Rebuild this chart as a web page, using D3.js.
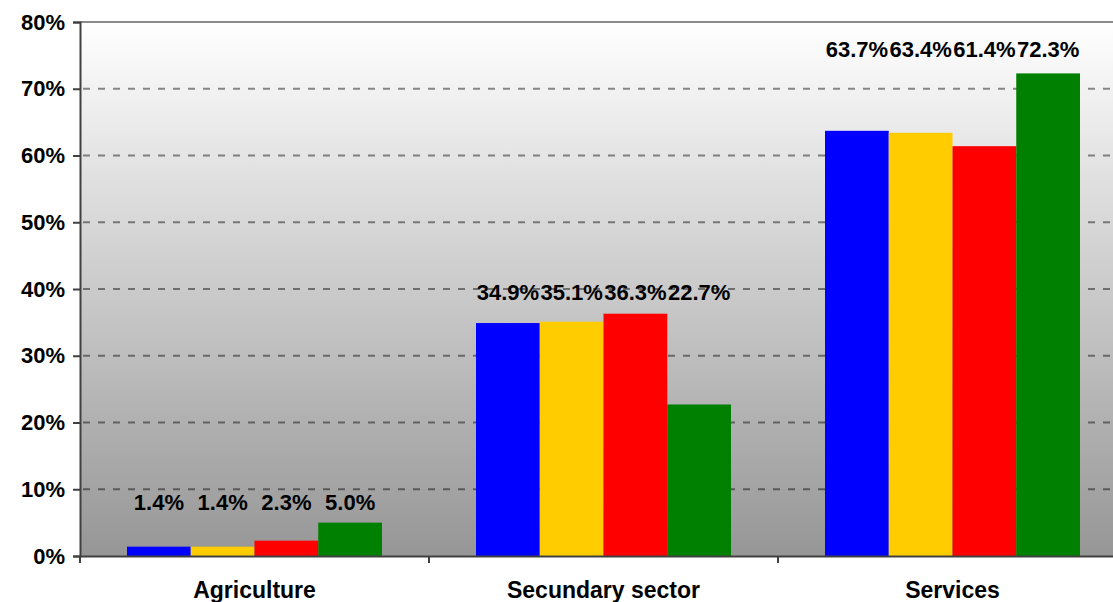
<!DOCTYPE html>
<html><head><meta charset="utf-8">
<script src="https://cdn.jsdelivr.net/npm/d3@7"></script>
<style>html,body{margin:0;padding:0;background:#fff;overflow:hidden}</style>
</head><body>
<svg id="c" width="1113" height="602"></svg>
<script>
const categories = ["Agriculture", "Secundary sector", "Services"];
const seriesNames = ["Series 1", "Series 2", "Series 3", "Series 4"];
const seriesColors = ["#0000ff", "#ffcc00", "#ff0000", "#008000"];
const series1 = [1.4, 34.9, 63.7];
const series2 = [1.4, 35.1, 63.4];
const series3 = [2.3, 36.3, 61.4];
const series4 = [5.0, 22.7, 72.3];
const yTicks = [0, 10, 20, 30, 40, 50, 60, 70, 80];

(function () {
const allSeries = [series1, series2, series3, series4];
const svg = d3.select("#c");
const font = "'Liberation Sans', Arial, sans-serif";
const pL = 80, pT = 22, pB = 556, pR = 1127;

const y = d3.scaleLinear().domain([0, 80]).range([pB, pT]);
const x0 = d3.scaleBand().domain(categories).range([pL, pR]).padding(0);
const x1 = d3.scaleBand().domain(seriesNames).range([47, 302]).padding(0);

const defs = svg.append("defs");
const g = defs.append("linearGradient").attr("id", "bg").attr("x1", 0).attr("y1", 0).attr("x2", 0).attr("y2", 1);
g.append("stop").attr("offset", "0%").attr("stop-color", "#ffffff");
g.append("stop").attr("offset", "100%").attr("stop-color", "#969696");

svg.append("rect").attr("x", pL).attr("y", pT).attr("width", pR - pL).attr("height", pB - pT).attr("fill", "url(#bg)");
svg.append("line").attr("x1", pL).attr("x2", pR).attr("y1", pT).attr("y2", pT).attr("stroke", "#8c8c8c").attr("stroke-width", 2);

// gridlines
svg.append("g").selectAll("line").data(yTicks.filter(t => t > 0 && t < 80)).join("line")
  .attr("x1", pL).attr("x2", pR).attr("y1", d => y(d)).attr("y2", d => y(d))
  .attr("stroke", "#000").attr("stroke-opacity", 0.45).attr("stroke-width", 2).attr("stroke-dasharray", "7,8")
  .attr("stroke-dashoffset", -3);

// bars
categories.forEach((cat, ci) => {
  const grp = svg.append("g").attr("transform", `translate(${x0(cat)},0)`);
  seriesNames.forEach((s, si) => {
    const v = allSeries[si][ci];
    grp.append("rect").attr("x", x1(s)).attr("width", x1.bandwidth()).attr("y", y(v)).attr("height", y(0) - y(v)).attr("fill", seriesColors[si]);
  });
  const mx = d3.max(allSeries, a => a[ci]);
  seriesNames.forEach((s, si) => {
    const v = allSeries[si][ci];
    grp.append("text").attr("x", x1(s) + x1.bandwidth() / 2).attr("y", y(mx) - 12 - mx * 0.06)
      .attr("text-anchor", "middle").attr("font-family", font).attr("font-weight", "bold").attr("font-size", 22)
      .attr("fill", "#000").text(v.toFixed(1) + "%");
  });
});

// y axis
const ya = svg.append("g").attr("transform", `translate(${pL},0)`)
  .call(d3.axisLeft(y).tickValues(yTicks).tickFormat(d => d + "%").tickSize(7).tickPadding(8));
ya.select(".domain").attr("stroke", "#404040").attr("stroke-width", 2);
ya.selectAll(".tick line").attr("stroke", "#404040").attr("stroke-width", 2);
ya.selectAll("text").attr("font-family", font).attr("font-weight", "bold").attr("font-size", 22).attr("fill", "#000");

// x axis
const xa = svg.append("g").attr("transform", `translate(0,${pB})`)
  .call(d3.axisBottom(x0).tickSize(0).tickPadding(26));
xa.select(".domain").attr("stroke", "#404040").attr("stroke-width", 2);
xa.selectAll("text").attr("font-family", font).attr("font-weight", "bold").attr("font-size", 23).attr("fill", "#000");
svg.append("g").selectAll("line").data(categories).join("line")
  .attr("x1", d => x0(d)).attr("x2", d => x0(d)).attr("y1", pB).attr("y2", pB + 7)
  .attr("stroke", "#404040").attr("stroke-width", 2);
})();
</script>
</body></html>
